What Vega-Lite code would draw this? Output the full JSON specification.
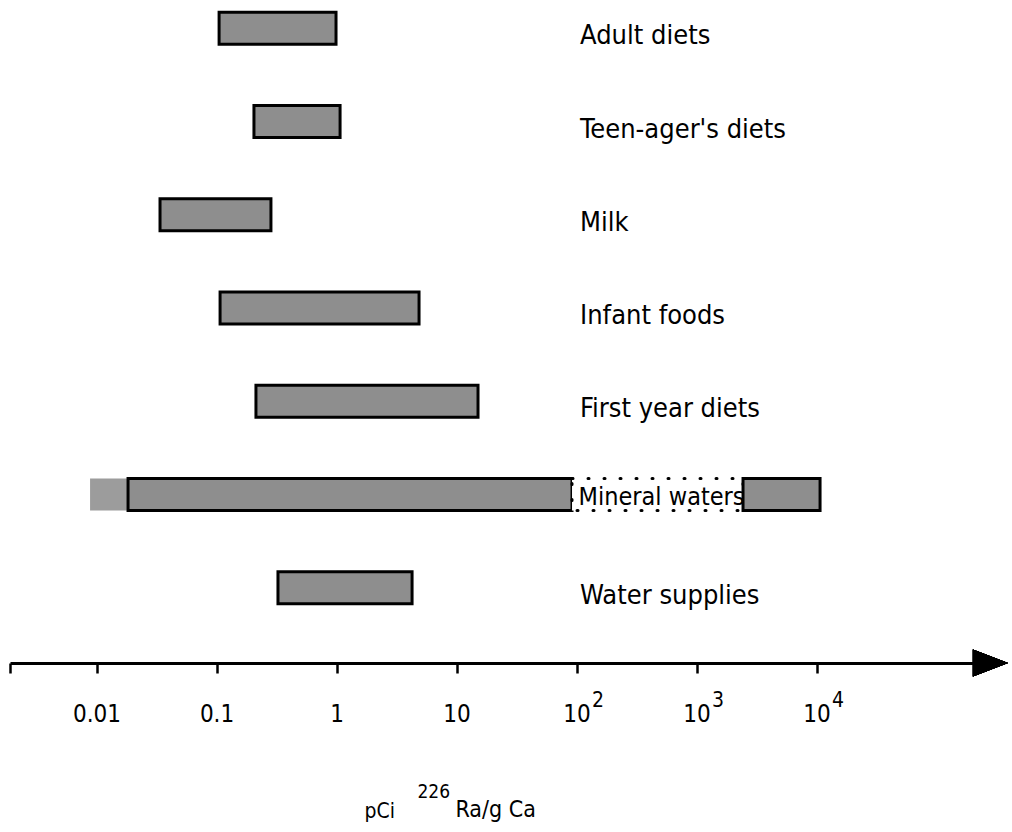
{
  "$schema": "https://vega.github.io/schema/vega-lite/v6.json",
  "width": 980,
  "height": 663,
  "autosize": {"type": "none"},
  "padding": {"left": 10, "top": 0, "right": 22, "bottom": 169},
  "background": "white",
  "config": {
    "view": {"stroke": null},
    "font": "DejaVu Sans Condensed, DejaVu Sans, sans-serif"
  },
  "data": {
    "values": [
      {"label": "Adult diets", "rank": 1, "low": 0.105, "high": 0.99, "part": "solid"},
      {"label": "Teen-ager's diets", "rank": 2, "low": 0.205, "high": 1.07, "part": "solid"},
      {"label": "Milk", "rank": 3, "low": 0.0338, "high": 0.284, "part": "solid"},
      {"label": "Infant foods", "rank": 4, "low": 0.107, "high": 4.87, "part": "solid"},
      {"label": "First year diets", "rank": 5, "low": 0.213, "high": 15.1, "part": "solid"},
      {"label": "Mineral waters", "rank": 6, "low": 0.00883, "high": 0.0183, "part": "faded"},
      {"label": "Mineral waters", "rank": 6, "low": 0.0183, "high": 91.7, "part": "solid"},
      {"label": "Mineral waters", "rank": 6, "low": 91.7, "high": 2440, "part": "dotted"},
      {"label": "Mineral waters", "rank": 6, "low": 2440, "high": 10700, "part": "solid"},
      {"label": "Water supplies", "rank": 7, "low": 0.325, "high": 4.26, "part": "solid"}
    ]
  },
  "resolve": {"axis": {"x": "independent"}},
  "layer": [
    {
      "mark": {"type": "bar", "orient": "horizontal", "size": 32, "strokeWidth": 3, "strokeCap": "round"},
      "encoding": {
        "x": {
          "field": "low",
          "type": "quantitative",
          "scale": {"type": "log", "domain": [0.0019, 279000], "nice": false, "padding": 0},
          "axis": {
            "orient": "bottom",
            "values": [0.0019, 0.01, 0.1, 1, 10, 100, 1000, 10000],
            "labelExpr": "datum.value < 0.005 ? '' : datum.value < 0.05 ? '0.01' : datum.value < 0.5 ? '0.1' : datum.value < 5 ? '1' : '10'",
            "domain": true,
            "domainColor": "black",
            "domainWidth": 3,
            "ticks": true,
            "tickColor": "black",
            "tickWidth": 2.5,
            "tickSize": 10,
            "grid": false,
            "labelFontSize": 24,
            "labelColor": "black",
            "labelPadding": 29,
            "labelFlush": false,
            "labelOverlap": false,
            "labelBound": false,
            "title": "pCi",
            "titleFontSize": 21,
            "titleFontWeight": "normal",
            "titleColor": "black",
            "titleAlign": "left",
            "titleBaseline": "alphabetic",
            "titleX": 354,
            "titleY": 154
          }
        },
        "x2": {"field": "high"},
        "y": {
          "field": "rank",
          "type": "quantitative",
          "scale": {"domain": [0.6965, 7.806], "reverse": true, "nice": false, "zero": false, "padding": 0},
          "axis": null
        },
        "fill": {
          "field": "part",
          "type": "nominal",
          "scale": {"domain": ["solid", "faded", "dotted"], "range": ["#8e8e8e", "#9c9c9c", "white"]},
          "legend": null
        },
        "stroke": {
          "field": "part",
          "type": "nominal",
          "scale": {"domain": ["solid", "faded", "dotted"], "range": ["black", "transparent", "black"]},
          "legend": null
        },
        "strokeDash": {
          "field": "part",
          "type": "nominal",
          "scale": {"domain": ["solid", "faded", "dotted"], "range": [[1, 0], [1, 0], [1, 15]]},
          "legend": null
        }
      }
    },
    {
      "mark": {
        "type": "point",
        "shape": "M-0.95,-0.75L1,0L-0.95,0.75Z",
        "filled": true,
        "color": "black",
        "opacity": 1,
        "size": 1296
      },
      "encoding": {
        "x": {
          "datum": 279000,
          "type": "quantitative",
          "axis": {
            "orient": "bottom",
            "values": [100, 1000, 10000],
            "labelExpr": "datum.value < 500 ? '2' : datum.value < 5000 ? '3' : '4'",
            "domain": false,
            "ticks": false,
            "grid": false,
            "labelFontSize": 21,
            "labelColor": "black",
            "labelOffset": 21,
            "labelPadding": 26,
            "labelFlush": false,
            "labelOverlap": false,
            "labelBound": false,
            "title": "226",
            "titleFontSize": 19,
            "titleFontWeight": "normal",
            "titleColor": "black",
            "titleAlign": "left",
            "titleBaseline": "alphabetic",
            "titleX": 407,
            "titleY": 134
          }
        },
        "y": {"datum": 7.806, "type": "quantitative"}
      }
    },
    {
      "transform": [
        {"aggregate": [], "groupby": ["label", "rank"]},
        {"filter": "datum.label != 'Mineral waters'"}
      ],
      "mark": {"type": "text", "align": "left", "baseline": "alphabetic", "dy": 16, "fontSize": 27, "color": "black"},
      "encoding": {
        "x": {
          "datum": 107,
          "type": "quantitative",
          "axis": {
            "orient": "bottom",
            "domain": false,
            "ticks": false,
            "labels": false,
            "grid": false,
            "title": "Ra/g Ca",
            "titleFontSize": 23,
            "titleFontWeight": "normal",
            "titleColor": "black",
            "titleAlign": "left",
            "titleBaseline": "alphabetic",
            "titleX": 445,
            "titleY": 153
          }
        },
        "y": {"field": "rank", "type": "quantitative"},
        "text": {"field": "label"}
      }
    },
    {
      "transform": [
        {"aggregate": [], "groupby": ["label", "rank"]},
        {"filter": "datum.label == 'Mineral waters'"}
      ],
      "mark": {"type": "text", "align": "left", "baseline": "alphabetic", "dy": 10, "fontSize": 25, "color": "black"},
      "encoding": {
        "x": {"datum": 104, "type": "quantitative", "axis": null},
        "y": {"field": "rank", "type": "quantitative"},
        "text": {"field": "label"}
      }
    }
  ]
}
